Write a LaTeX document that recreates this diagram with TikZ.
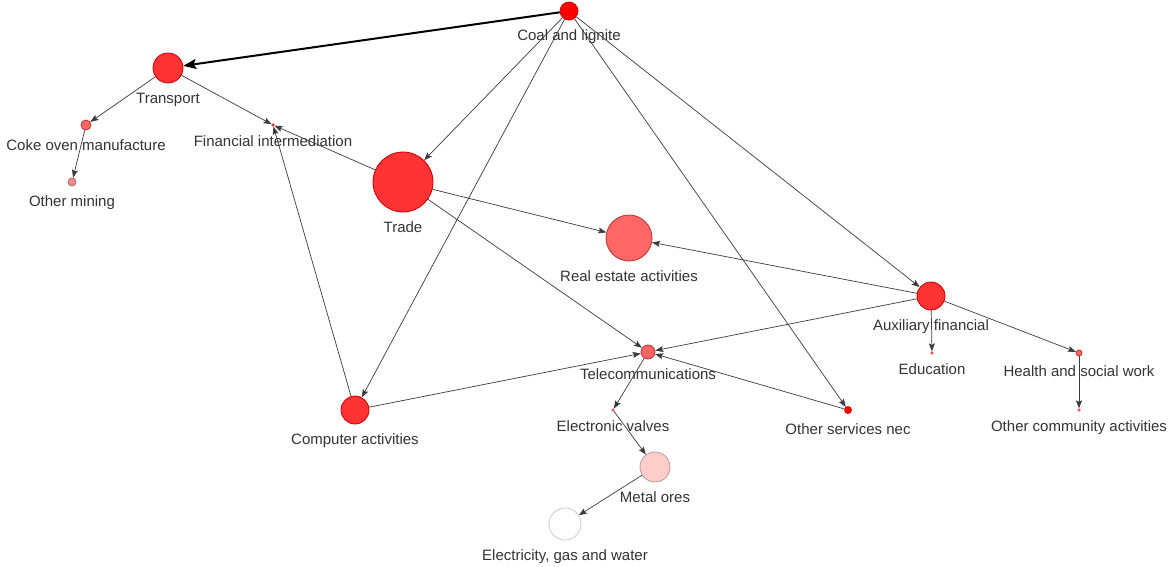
\documentclass[tikz,border=0pt]{standalone}
\usepackage{fontspec}
\setmainfont{Liberation Sans}
\usepackage{xcolor}
\usetikzlibrary{arrows.meta}
\definecolor{labgray}{HTML}{333333}
\definecolor{edgegray}{HTML}{3A3A3A}
\definecolor{redA}{HTML}{FF0000}
\definecolor{redB}{HTML}{FF3333}
\definecolor{redC}{HTML}{FF6666}
\definecolor{redD}{HTML}{F28A8A}
\definecolor{redE}{HTML}{FFCCCC}
\tikzset{every label/.append style={font=\fontsize{15}{18}\selectfont, text=labgray, inner sep=0pt, text height=11pt, text depth=3pt, yshift=-9pt}}

\begin{document}
\begin{tikzpicture}[>={Stealth[length=8pt, width=6pt, inset=1.5pt]}, x=1pt, y=-1pt,
    nd/.style={circle, inner sep=0pt, minimum size=#1, line width=0.8pt},
    rA/.style={fill=redA, draw=red!85!black},
    rB/.style={fill=redB, draw=red!80!black},
    rC/.style={fill=redC, draw=red!65!black!80},
    rD/.style={fill=redD, draw=red!55!black!60},
    rE/.style={fill=redE, draw=red!30!black!40},
    rW/.style={fill=white, draw=black!20},
    edge/.style={->, draw=edgegray, line width=0.7pt}]
    \useasboundingbox (0,0) rectangle (1169,567);
    % top
    \node[nd=18pt, rA, label=below:Coal and lignite] (coal) at (569,11) {};
    \node[nd=30pt, rB, label=below:Transport] (transport) at (168,68) {};
    \node[nd=10pt, rC, label=below:Coke oven manufacture] (coke) at (86,125) {};
    \node[nd=8pt, rD, label=below:Other mining] (mining) at (72,182) {};
    \node[nd=3pt, rB, line width=0.3pt, label=below:Financial intermediation] (finint) at (273,125) {};
    % middle
    \node[nd=60pt, rB, label=below:Trade] (trade) at (403,182) {};
    \node[nd=46pt, rC, label=below:Real estate activities] (realest) at (629,238) {};
    \node[nd=28pt, rB, label=below:Auxiliary financial] (auxfin) at (931,296) {};
    \node[nd=14pt, rC, label=below:Telecommunications] (telecom) at (648,352) {};
    \node[nd=3pt, rC, line width=0.3pt, label=below:Education] (educ) at (932,353) {};
    \node[nd=6pt, rC, label=below:Health and social work] (health) at (1079,353) {};
    % bottom
    \node[nd=28pt, rB, label=below:Computer activities] (computer) at (355,410) {};
    \node[nd=3pt, rC, line width=0.3pt, label=below:Electronic valves] (valves) at (613,410) {};
    \node[nd=7pt, rA, label=below:Other services nec] (othersvc) at (848,410) {};
    \node[nd=3pt, rC, line width=0.3pt, label=below:Other community activities] (commun) at (1079,410) {};
    \node[nd=30pt, rE, label=below:Metal ores] (metal) at (655,467) {};
    \node[nd=32pt, rW, label=below:{Electricity, gas and water}] (electr) at (565,524) {};
    % edges
    \draw[-{Stealth[length=13pt, width=10pt, inset=2.5pt]}, line width=2pt, black] (coal) -- (transport);
    \foreach \a/\b in {coal/trade, coal/computer, coal/othersvc, coal/auxfin,
        transport/coke, transport/finint, coke/mining,
        trade/finint, trade/realest, trade/telecom,
        computer/finint, computer/telecom,
        auxfin/realest, auxfin/telecom, auxfin/educ, auxfin/health, health/commun,
        othersvc/telecom, telecom/valves, valves/metal, metal/electr}
        \draw[edge] (\a) -- (\b);
\end{tikzpicture}
\end{document}
